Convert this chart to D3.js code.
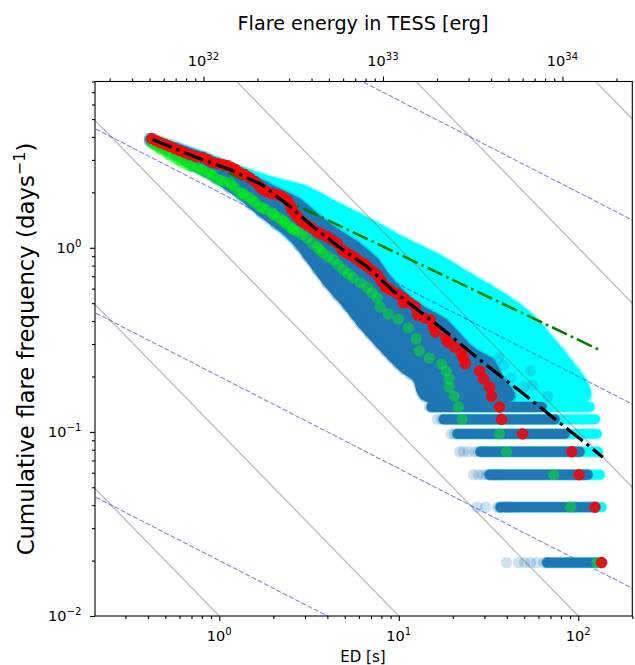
<!DOCTYPE html>
<html><head><meta charset="utf-8"><style>html,body{margin:0;padding:0;background:#fff}text{font-family:"DejaVu Sans";fill:#000}</style>
<script src="https://cdn.jsdelivr.net/npm/d3@7"></script></head><body><svg id="c" width="635" height="665"></svg>
<script>
const edDomain=[0.203,200], freqDomain=[0.01,8];
const LUM=1.225e32;
const xTicks=[1,10,100], yTicks=[0.01,0.1,1], topTicks=[1e32,1e33,1e34];
const grayAmps=[0.01,0.1,1,10,100,1000], dashAmps=[0.02,0.2,2,20];
const greenLineED=[0.43,135], greenLineFreq=[4.0,0.275];
const blackED=[0.425,0.749,1.145,1.727,2.41,3.33,4.71,6.67,9.32,13.2,18.7,26.1,36.9,52.2,73,103,137];
const blackFreq=[3.87,3.09,2.66,2.20,1.71,1.30,1.0,0.789,0.583,0.448,0.344,0.262,0.201,0.1545,0.1188,0.0912,0.0728];
const redED=[0.42,0.465,0.529,0.601,0.684,0.809,0.92,1.046,1.175,1.302,1.48,1.68,1.84,2.10,2.38,2.54,2.75,3.08,3.51,3.99,4.53,4.83,5.36,6.10,6.67,7.59,8.41,8.97,10.6,10.6,12.4,12.7,15,15.6,16,18.2,18.7,20.4,22.3,22.9,23.5,28.2,29.7,32.1,32.9,36.4,37.4,49,92,101,124,135,
 0.442,0.497,0.564,0.641,0.74,0.863,0.98,1.116,1.236,1.388,1.58,1.75,1.96,2.23,2.48,2.64,2.89,3.29,3.74,4.25,5.09,5.71,6.41,7.11,7.98,8.63,9.81,11.5,13.9];
const redFreq=[3.92,3.73,3.55,3.37,3.21,3.09,2.90,2.83,2.72,2.56,2.40,2.15,2.02,1.94,1.82,1.61,1.46,1.33,1.22,1.15,1.06,0.975,0.916,0.839,0.789,0.713,0.614,0.59,0.534,0.502,0.477,0.432,0.406,0.372,0.349,0.328,0.308,0.289,0.268,0.252,0.234,0.214,0.194,0.175,0.156,0.1365,0.117,0.0975,0.078,0.0585,0.039,0.0195,
 3.82,3.64,3.46,3.29,3.13,3.01,2.87,2.79,2.66,2.50,2.29,2.07,1.97,1.90,1.71,1.53,1.39,1.28,1.18,1.105,0.94,0.883,0.818,0.75,0.661,0.606,0.562,0.502,0.416];
const greenED=[0.42,0.453,0.509,0.579,0.658,0.758,0.863,0.98,1.145,1.302,1.48,1.68,1.96,2.23,2.48,2.75,3.08,3.51,3.78,4.31,4.90,5.57,6.67,7.59,7.88,8.74,9.93,11.3,12.5,13.0,14.8,17.3,18.4,19.1,19.1,20.4,21.5,22.6,36.4,39.9,73,90.8,127,
 0.436,0.479,0.543,0.618,0.703,0.809,0.92,1.06,1.22,1.388,1.58,1.82,2.10,2.35,2.61,2.89,3.29,3.64,4.04,4.59,5.22,6.10,7.11,
 0.425,0.465,0.522,0.601,0.684,0.789,0.897,1.02,1.175,1.35,1.54,1.75,2.01,2.29,2.54];
const greenFreq=[3.78,3.55,3.29,3.01,2.83,2.72,2.56,2.35,2.26,1.99,1.87,1.67,1.55,1.42,1.30,1.22,1.13,1.01,0.94,0.861,0.759,0.687,0.606,0.534,0.477,0.437,0.411,0.367,0.32,0.275,0.252,0.234,0.214,0.194,0.175,0.156,0.1365,0.117,0.0975,0.078,0.0585,0.039,0.0195,
 3.64,3.41,3.13,2.90,2.76,2.63,2.47,2.29,2.12,1.92,1.76,1.61,1.47,1.35,1.25,1.18,1.06,0.975,0.893,0.808,0.722,0.645,0.569,
 3.68,3.46,3.21,2.98,2.79,2.66,2.50,2.32,2.18,1.97,1.80,1.65,1.51,1.39,1.27];
const cyanHullED=[0.409,0.83,1.388,2.04,3.0,4.71,7.30,10.7,16.4,25.1,38.8,53.6,73,88.5,106,111,30,12,5,2,1,0.6];
const cyanHullFreq=[3.92,3.13,2.59,2.29,2.07,1.65,1.33,1.08,0.883,0.687,0.534,0.421,0.300,0.237,0.187,0.1545,0.1545,0.25,0.6,1.4,2.4,3.3];
const cyanEdgeED=[0.586,1.07,1.68,2.48,3.74,5.86,8.85,13.2,20.1,31.3,46,62.7,81,97];
const cyanEdgeFreq=[3.50,2.83,2.44,2.18,1.85,1.49,1.21,0.975,0.778,0.606,0.477,0.358,0.268,0.211];
const blueHullED=[0.409,0.586,0.809,1.27,1.84,2.71,3.94,5.79,7.30,8.74,12.5,17.9,25.4,32.4,36.9,42,13.9,12.5,10.7,9.2,7.78,6.17,5.15,3.98,3.08,2.51,1.71,1.32,0.956,0.711,0.564,0.409];
const blueHullFreq=[3.92,3.50,3.13,2.59,2.15,1.78,1.32,1.03,0.85,0.67,0.483,0.391,0.275,0.239,0.191,0.156,0.156,0.196,0.219,0.252,0.300,0.386,0.483,0.645,0.905,1.16,1.55,1.92,2.37,2.76,3.17,3.78];
const blueEdgeED=[1.13,1.5,2.07,2.78,3.51,4.53,5.65,6.94,8.5,9.93,11.6];
const blueEdgeFreq=[2.12,1.71,1.33,1.025,0.759,0.555,0.432,0.34,0.275,0.234,0.206];
const rowFreq=[0.0195,0.039,0.0585,0.078,0.0975,0.117,0.1365];
const rowBlueStart=[67,36.9,32,28.5,21.2,17.8,15.2];
const rowBlueEnd=[135,124,113,102,84,74,62.5];
const rowCyanEnd=[135,135,132,129,127,124,116];
const tailED=[39.8,46.5,50.2,54.3,58.6,64.2,67.6, 27.4,30.4,35.5,36.4,39.8,42, 26.1,27.8,29.3,30.8,33.3,34.2,36, 21.8,22.9,24.4,26.4,27.8,30, 19.6,20.4, 16.4,17.3, 14.8,15.4, 36,38.4,42,54.3,55.7,49.6,67.6];
const tailFreq=[0.0195,0.0195,0.0195,0.0195,0.0195,0.0195,0.0195, 0.039,0.039,0.039,0.039,0.039,0.039, 0.0585,0.0585,0.0585,0.0585,0.0585,0.0585,0.0585, 0.078,0.078,0.078,0.078,0.078,0.078, 0.0975,0.0975, 0.117,0.117, 0.1365,0.1365, 0.252,0.231,0.196,0.214,0.179,0.175,0.156];

const L=95,R=632.3,T=81.5,B=616,MR=5.7;
const svg=d3.select("#c");
const x=d3.scaleLog().domain(edDomain).range([L,R]);
const xTop=d3.scaleLog().domain(edDomain.map(d=>d*LUM)).range([L,R]);
const y=d3.scaleLog().domain(freqDomain).range([B,T]);
svg.append("defs").append("clipPath").attr("id","clip").append("rect").attr("x",L).attr("y",T).attr("width",R-L).attr("height",B-T);
const g=svg.append("g").attr("clip-path","url(#clip)");
const CY="#00ffff",BL="#1f77b4";
const zip=(a,b)=>a.map((d,i)=>[d,b[i]]);
const ln=d3.line().x(d=>x(d[0])).y(d=>y(d[1]));
const smooth=d3.line().x(d=>x(d[0])).y(d=>y(d[1])).curve(d3.curveCatmullRomClosed.alpha(0.5));
function dots(ed,f,col,op,r){g.append("g").selectAll("circle").data(zip(ed,f)).join("circle").attr("cx",d=>x(d[0])).attr("cy",d=>y(d[1])).attr("r",r||MR).attr("fill",col).attr("opacity",op);}
function hull(ed,f,col){
  g.append("path").attr("d",smooth(zip(ed,f))).attr("fill",col).attr("stroke",col).attr("stroke-width",2*MR).attr("stroke-linejoin","round").attr("stroke-opacity",0.25);
  g.append("path").attr("d",smooth(zip(ed,f))).attr("fill",col).attr("stroke",col).attr("stroke-width",MR*1.4).attr("stroke-linejoin","round");
  dots(ed,f,col,0.25);
}
function rows(f,a,b,col){
  f.forEach((v,i)=>{
    g.append("path").attr("d",ln([[a[i],v],[b[i],v]])).attr("stroke",col).attr("stroke-width",2*MR).attr("stroke-linecap","round").attr("fill","none").attr("stroke-opacity",0.35);
    g.append("path").attr("d",ln([[a[i],v],[b[i],v]])).attr("stroke",col).attr("stroke-width",2*MR-1.6).attr("stroke-linecap","round").attr("fill","none");
  });
}
hull(cyanHullED,cyanHullFreq,CY);
dots(cyanEdgeED,cyanEdgeFreq,CY,0.25);
rows(rowFreq,rowBlueStart,rowCyanEnd,CY);
const grid=[0.1,1000];
grayAmps.forEach(a=>g.append("path").attr("d",ln(grid.map(e=>[e,a/e]))).attr("fill","none").attr("stroke","#808080").attr("stroke-opacity",0.5).attr("stroke-width",1.4));
dashAmps.forEach(a=>g.append("path").attr("d",ln(grid.map(e=>[e,a*Math.pow(e,-0.5)]))).attr("fill","none").attr("stroke","#0000ff").attr("stroke-opacity",0.5).attr("stroke-width",1.1).attr("stroke-dasharray","5,2"));
hull(blueHullED,blueHullFreq,BL);
dots(blueEdgeED,blueEdgeFreq,BL,0.25);
rows(rowFreq,rowBlueStart,rowBlueEnd,BL);
dots(tailED,tailFreq,BL,0.22);
g.append("path").attr("d",ln(zip(greenLineED,greenLineFreq))).attr("fill","none").attr("stroke","#008000").attr("stroke-width",2.6).attr("stroke-dasharray","16.6,4.2,2.6,4.2");
dots(greenED,greenFreq,"#00ff00",0.42);
g.append("g").selectAll("circle").data(zip(redED,redFreq)).join("circle").attr("cx",d=>x(d[0])).attr("cy",d=>y(d[1])).attr("r",MR-0.5).attr("fill","rgba(255,0,0,0.82)").attr("stroke","#ff0000").attr("stroke-width",1);
g.append("path").attr("d",ln(zip(blackED,blackFreq))).attr("fill","none").attr("stroke","#000").attr("stroke-width",3.2).attr("stroke-dasharray","20.5,5.1,3.2,5.1");
svg.append("rect").attr("x",L).attr("y",T).attr("width",R-L).attr("height",B-T).attr("fill","none").attr("stroke","#000").attr("stroke-width",1.1);
function pow(sel,e,size){
  sel.text(null);
  sel.append("tspan").text("10");
  sel.append("tspan").attr("dy",-size*0.42).attr("font-size",size*0.7).text(String(e).replace("-","\u2212"));
}
function fmt(axis,tv){axis.tickValues(tv).tickSizeInner(5).tickSizeOuter(0).tickPadding(3.5);return axis;}
function decorate(gg){gg.select(".domain").remove();gg.selectAll("line").attr("stroke","#000").attr("stroke-width",1.1);}
function minors(sc){const [a,b]=sc.domain();const out=[];for(let e=Math.floor(Math.log10(a));e<=Math.ceil(Math.log10(b));e++)for(let m=2;m<=9;m++){const v=m*Math.pow(10,e);if(v>=a*0.999&&v<=b*1.001)out.push(v);}return out;}
const bottom=svg.append("g").attr("transform",`translate(0,${B})`).call(fmt(d3.axisBottom(x),xTicks).tickFormat(()=>""));
const left=svg.append("g").attr("transform",`translate(${L},0)`).call(fmt(d3.axisLeft(y),yTicks).tickFormat(()=>""));
const top_=svg.append("g").attr("transform",`translate(0,${T})`).call(fmt(d3.axisTop(xTop),topTicks).tickFormat(()=>""));
[bottom,left,top_].forEach(decorate);
svg.append("g").attr("transform",`translate(0,${B})`).call(d3.axisBottom(x).tickValues(minors(x)).tickSizeInner(3).tickSizeOuter(0).tickFormat(()=>"")).call(decorate);
svg.append("g").attr("transform",`translate(${L},0)`).call(d3.axisLeft(y).tickValues(minors(y)).tickSizeInner(3).tickSizeOuter(0).tickFormat(()=>"")).call(decorate);
svg.append("g").attr("transform",`translate(0,${T})`).call(d3.axisTop(xTop).tickValues(minors(xTop)).tickSizeInner(3).tickSizeOuter(0).tickFormat(()=>"")).call(decorate);
const TS=14.5;
xTicks.forEach(v=>{const t=svg.append("text").attr("x",x(v)).attr("y",641).attr("text-anchor","middle").attr("font-size",TS);pow(t,Math.round(Math.log10(v)),TS);});
topTicks.forEach(v=>{const t=svg.append("text").attr("x",xTop(v)).attr("y",66).attr("text-anchor","middle").attr("font-size",TS);pow(t,Math.round(Math.log10(v)),TS);});
yTicks.forEach(v=>{const t=svg.append("text").attr("x",81.5).attr("y",y(v)+5).attr("text-anchor","end").attr("font-size",TS);pow(t,Math.round(Math.log10(v)),TS);});
svg.append("text").attr("x",363).attr("y",661.5).attr("text-anchor","middle").attr("font-size",15).text("ED [s]");
svg.append("text").attr("x",363).attr("y",30).attr("text-anchor","middle").attr("font-size",19.2).text("Flare energy in TESS [erg]");
const yl=svg.append("text").attr("transform","translate(33.5,349) rotate(-90)").attr("text-anchor","middle").attr("font-size",22.8);
yl.append("tspan").text("Cumulative flare frequency (days");
yl.append("tspan").attr("dy",-9).attr("font-size",16).text("\u22121");
yl.append("tspan").attr("dy",9).text(")");
</script></body></html>
